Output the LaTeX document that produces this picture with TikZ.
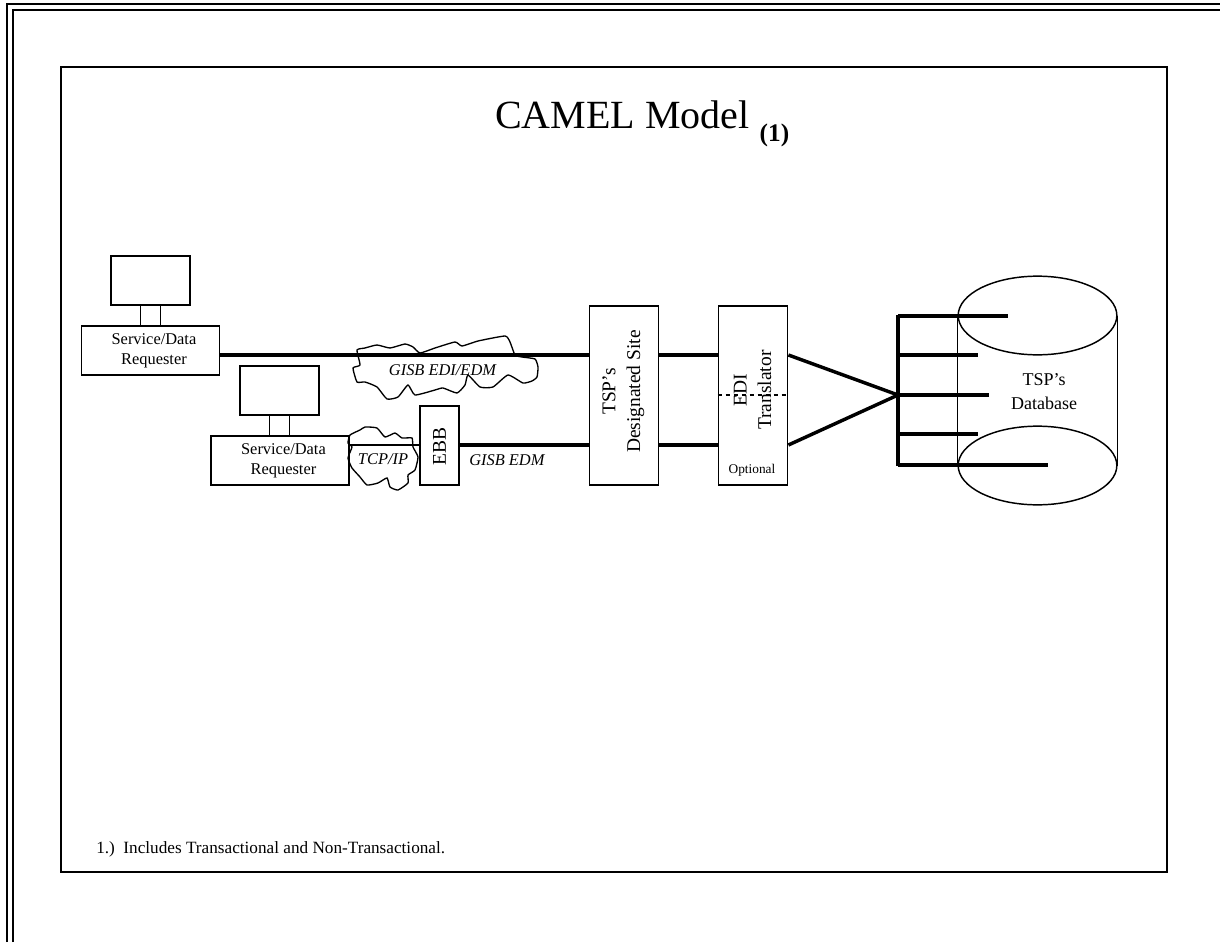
\documentclass[tikz,border=0pt]{standalone}
\usepackage{fontspec}
\setmainfont{Liberation Serif}
\usetikzlibrary{positioning,calc,shapes.geometric}
\begin{document}
\begin{tikzpicture}[
  x=.75pt,y=-.75pt,
  frameline/.style={line width=1.3pt},
  boxline/.style={draw,line width=1.1pt},
  requester/.style={boxline,minimum width=103.5pt,minimum height=36.5pt,inner sep=0pt},
  reqtext/.style={align=center,inner sep=0pt,font=\fontsize{12.3}{15}\selectfont},
  monitor/.style={boxline,minimum width=59pt,minimum height=36.5pt,inner sep=0pt},
  tallbox/.style={boxline,minimum width=52pt,minimum height=134pt,inner sep=0pt},
  sidetext/.style={rotate=90,align=center,font=\fontsize{14.6}{18.5}\selectfont},
  stalk/.style={line width=1pt},
  trunk/.style={line width=2.6pt},
  thinwire/.style={line width=1.9pt},
  cloudline/.style={line width=1pt},
  label/.style={font=\fontsize{12.3}{14}\selectfont\itshape,inner sep=0pt},
  drum/.style={draw,ellipse,line width=1.1pt,minimum width=119pt,minimum height=59pt,inner sep=0pt}
]
  \useasboundingbox (0,0) rectangle (1220,942);
  % page and slide frames
  \coordinate (lineA) at (0,355);
  \coordinate (lineB) at (0,445);
  \coordinate (lineC) at (0,395);
  \draw[frameline] (7,942) -- (7,4) -- (1220,4);
  \draw[frameline] (13,942) -- (13,10) -- (1220,10);
  \draw[frameline] (61,67) rectangle (1167,872);

  \node[font=\fontsize{30}{36}\selectfont,anchor=base west,inner sep=0pt] (title) at (495,128.5)
    {CAMEL Model \raisebox{-9.5pt}{\fontsize{19}{21}\selectfont\bfseries(1)}};
  \node[font=\fontsize{12.9}{15}\selectfont,anchor=base west,inner sep=0pt] (note) at (96,853.5)
    {1.)\ \ Includes Transactional and Non-Transactional.};

  % requesters
  \node[requester] (req1) at (150.5,350.5) {};
  \node[reqtext] at ([xshift=2.6pt,yshift=-.6pt]req1) {Service/Data\\Requester};
  \node[monitor] (mon1) at (150.5,280.5) {};
  \node[requester] (req2) at (280,460.5) {};
  \node[reqtext] at ([xshift=2.6pt,yshift=-.6pt]req2) {Service/Data\\Requester};
  \node[monitor] (mon2) at (279.5,390.5) {};
  \draw[stalk] ([xshift=-7.5pt]mon1.south) -- ([xshift=-7.5pt]mon1.south |- req1.north);
  \draw[stalk] ([xshift=7.5pt]mon1.south) -- ([xshift=7.5pt]mon1.south |- req1.north);
  \draw[stalk] ([xshift=-7.5pt]mon2.south) -- ([xshift=-7.5pt]mon2.south |- req2.north);
  \draw[stalk] ([xshift=7.5pt]mon2.south) -- ([xshift=7.5pt]mon2.south |- req2.north);

  \node[boxline,minimum width=29pt,minimum height=59pt,inner sep=0pt] (ebb) at (439.5,445.5) {};
  \node[sidetext] at ([yshift=-1pt]ebb) {EBB};
  \node[tallbox] (site) at (624,395.5) {};
  \node[sidetext] at ([xshift=-.5pt,yshift=3pt]site) {TSP’s\\Designated Site};
  \node[tallbox] (trans) at (753,395.5) {};
  \node[sidetext] at ([xshift=-.3pt,yshift=4pt]trans) {EDI\\Translator};
  \node[font=\fontsize{10}{12}\selectfont,inner sep=0pt] (opt) at (752,470) {Optional};

  % database
  \node[drum] (dbtop) at (1037.5,315.5) {};
  \node[drum] (dbbot) at (1037.5,465.5) {};
  \draw[line width=1.1pt] (dbtop.west) -- (dbbot.west);
  \draw[line width=1.1pt] (dbtop.east) -- (dbbot.east);
  \node[align=center,font=\fontsize{13.5}{18}\selectfont] (dbname) at (1044,392) {TSP’s\\Database};

  % wires
  \draw[trunk] (req1.east |- lineA) -- (site.west |- lineA);
  \draw[thinwire] (req2.east |- lineB) -- (ebb.west |- lineB);
  \draw[trunk] (ebb.east |- lineB) -- (site.west |- lineB);
  \draw[trunk] (site.east |- lineA) -- (trans.west |- lineA);
  \draw[trunk] (site.east |- lineB) -- (trans.west |- lineB);
  \draw[thinwire,dashed] (trans.west |- lineC) -- (trans.east |- lineC);
  \coordinate (bus) at (898,395);
  \draw[trunk] (trans.east |- lineA) -- (bus);
  \draw[trunk] (trans.east |- lineB) -- (bus);
  \draw[trunk] (898,315) -- (898,466);
  \foreach \y/\xend in {316/1008,355/978,395/989,434/978,465/1048}
    \draw[trunk] (898,\y) -- (\xend,\y);

  % clouds
  \draw[cloudline] plot[smooth cycle,tension=.3] coordinates {(357,350) (365,348) (377,345) (390,348) (405,344) (413,347) (420,353) (435,348) (455,342) (462,346) (478,341) (505,336) (510,342) (515,355) (522,357) (535,359) (538,367) (537,377) (532,381) (523,383) (508,375) (493,387) (480,387) (468,375) (465,385) (457,393) (443,388) (435,390) (415,395) (408,385) (398,397) (387,399) (377,387) (365,382) (357,382) (353,368) (360,365)};
  \draw[cloudline] plot[smooth cycle,tension=.3] coordinates {(350,435) (360,430) (365,427) (377,428) (385,437) (395,433) (402,438) (412,438) (413,447) (418,457) (415,470) (408,475) (408,483) (398,490) (390,487) (387,478) (378,483) (367,485) (360,477) (352,468) (348,458) (352,447) (348,443)};
  \node[label] (gisbA) at (442.5,370) {GISB EDI/EDM};
  \node[label] (tcp) at (383,459.5) {TCP/IP};
  \node[label,anchor=west] (gisbB) at (469,460) {GISB EDM};
\end{tikzpicture}
\end{document}
